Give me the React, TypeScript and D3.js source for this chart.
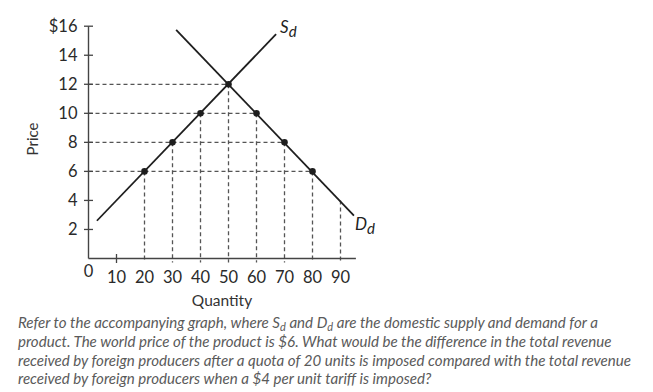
import React from 'react';
import {scaleLinear} from 'd3';

const W = 653;
const H = 392;

// tick values
const priceTicks = [2, 4, 6, 8, 10, 12, 14, 16];
const qtyTicks = [10, 20, 30, 40, 50, 60, 70, 80, 90];

// curve end points (quantity, price)
const supplyEnds = [{q: 3, p: 2.6}, {q: 67, p: 15.45}];
const demandEnds = [{q: 31.3, p: 15.75}, {q: 94.8, p: 2.95}];

// marked points
const supplyDots = [{q: 20, p: 6}, {q: 30, p: 8}, {q: 40, p: 10}, {q: 50, p: 12}];
const demandDots = [{q: 60, p: 10}, {q: 70, p: 8}, {q: 80, p: 6}];
// extra vertical guide with no dot
const extraGuide = [{q: 90, p: 4}];

const captionLines = [
	['Refer to the accompanying graph, where ', 'S', 'd', ' and ', 'D', 'd', ' are the domestic supply and demand for a'],
	['product. The world price of the product is $6. What would be the difference in the total revenue'],
	['received by foreign producers after a quota of 20 units is imposed compared with the total revenue'],
	['received by foreign producers when a $4 per unit tariff is imposed?'],
];

const font = 'Lato, "Open Sans", sans-serif';

const x = scaleLinear().domain([0, 100]).range([88.5, 368.5]);
const y = scaleLinear().domain([0, 16]).range([258.5, 26.2]);

const dash = {stroke: '#555', strokeWidth: 1.3, strokeDasharray: '4 3', fill: 'none'};
const solid = {stroke: '#1e1e1e', strokeWidth: 1.8, fill: 'none'};

const App = () => {
	const allDots = [...supplyDots, ...demandDots];
	const guides = [...allDots, ...extraGuide];

	return (
		<svg width={W} height={H} style={{position: 'absolute', left: 0, top: 0, background: '#fff'}}>
			{/* dashed horizontal guides from the price axis */}
			{allDots.filter(d => d.q >= 50).map(d =>
				<line key={'h' + d.p} x1={x(0)} x2={x(d.q)} y1={y(d.p)} y2={y(d.p)} style={dash}/>
			)}
			{/* dashed vertical guides down to the quantity axis */}
			{guides.map(d =>
				<line key={'v' + d.q} x1={x(d.q)} x2={x(d.q)} y1={y(d.p)} y2={y(0) + 4} style={dash}/>
			)}

			{/* axes */}
			<line x1={x(0)} x2={x(0)} y1={y(16)} y2={y(0)} stroke='#444' strokeWidth={1.4}/>
			<line x1={x(0)} x2={x(95.5)} y1={y(0)} y2={y(0)} stroke='#444' strokeWidth={1.4}/>
			{priceTicks.map(t =>
				<g key={'yt' + t}>
					<line x1={x(0) - 4.5} x2={x(0) + 4.5} y1={y(t)} y2={y(t)} stroke='#444' strokeWidth={1.3}/>
					<text x={x(0) - 11} y={y(t)} dy='0.36em' textAnchor='end'
						style={{fontFamily: font, fontSize: 16.5, fill: '#2a2a2a'}}>
						{t === 16 ? '$16' : t}
					</text>
				</g>
			)}
			<line x1={x(10)} x2={x(10)} y1={y(0) - 4.5} y2={y(0) + 4.5} stroke='#444' strokeWidth={1.3}/>
			{qtyTicks.map(t =>
				<text key={'xt' + t} x={x(t)} y={283} textAnchor='middle'
					style={{fontFamily: font, fontSize: 16.5, fill: '#2a2a2a'}}>{t}</text>
			)}
			<text x={x(0)} y={277} textAnchor='middle'
				style={{fontFamily: font, fontSize: 16.5, fill: '#2a2a2a'}}>0</text>

			{/* supply and demand */}
			<line x1={x(supplyEnds[0].q)} y1={y(supplyEnds[0].p)} x2={x(supplyEnds[1].q)} y2={y(supplyEnds[1].p)} style={solid}/>
			<line x1={x(demandEnds[0].q)} y1={y(demandEnds[0].p)} x2={x(demandEnds[1].q)} y2={y(demandEnds[1].p)} style={solid}/>
			{allDots.map(d =>
				<circle key={'c' + d.q} cx={x(d.q)} cy={y(d.p)} r={3.3} fill='#1e1e1e'/>
			)}

			{/* curve labels */}
			<text x={280} y={33} style={{fontFamily: font, fontSize: 17, fontStyle: 'italic', fill: '#222'}}>
				S<tspan dy={4} style={{fontSize: 15}}>d</tspan>
			</text>
			<text x={355} y={230} style={{fontFamily: font, fontSize: 17, fontStyle: 'italic', fill: '#222'}}>
				D<tspan dy={4} style={{fontSize: 15}}>d</tspan>
			</text>

			{/* axis titles */}
			<text transform={`translate(38,139) rotate(-90)`} textAnchor='middle'
				style={{fontFamily: font, fontSize: 15, fill: '#333'}}>Price</text>
			<text x={222} y={306} textAnchor='middle'
				style={{fontFamily: font, fontSize: 15.5, fill: '#333'}}>Quantity</text>

			{/* question text */}
			{captionLines.map((parts, i) =>
				<text key={'cap' + i} x={18} y={328 + i * 18.8}
					style={{fontFamily: font, fontSize: 15.1, fontStyle: 'italic', fill: '#5a5a5a'}}>
					{parts.length === 1 ? parts[0] : [
						<tspan key='a'>{parts[0]}</tspan>,
						<tspan key='b'>{parts[1]}</tspan>,
						<tspan key='c' dy={3} style={{fontSize: 11}}>{parts[2]}</tspan>,
						<tspan key='d' dy={-3}>{parts[3]}</tspan>,
						<tspan key='e'>{parts[4]}</tspan>,
						<tspan key='f' dy={3} style={{fontSize: 11}}>{parts[5]}</tspan>,
						<tspan key='g' dy={-3}>{parts[6]}</tspan>,
					]}
				</text>
			)}
		</svg>
	);
};

export default App;
